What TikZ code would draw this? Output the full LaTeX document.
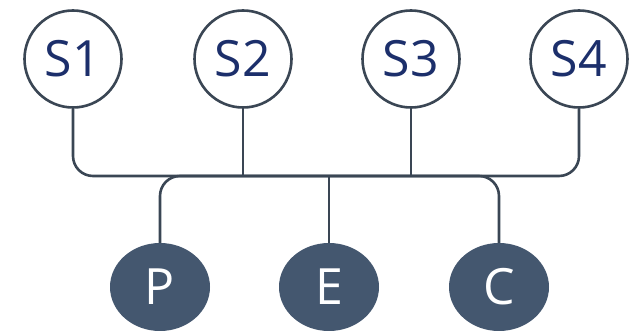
\documentclass[tikz,border=0pt]{standalone}
\usepackage{fontspec}
\setmainfont{Open Sans}
\usetikzlibrary{shapes.geometric}
\definecolor{linec}{HTML}{3A4654}
\definecolor{textblue}{HTML}{1C2F6B}
\definecolor{darkfill}{HTML}{44576F}
\tikzset{
  snode/.style={circle, draw=linec, line width=2.6pt, fill=white, minimum size=97pt, inner sep=0pt, text=textblue, font=\fontsize{50}{50}\selectfont},
  pnode/.style={ellipse, fill=darkfill, minimum width=100pt, minimum height=88pt, inner sep=0pt, text=white, font=\fontsize{50}{50}\selectfont},
  conn/.style={draw=linec, line width=2.6pt, rounded corners=20pt}
}
\begin{document}
\begin{tikzpicture}[x=1pt,y=-1pt]
\useasboundingbox (0,0) rectangle (634,331);
\node[snode] (S1) at (73,59) {S1};
\node[snode] (S2) at (243,59) {S2};
\node[snode] (S3) at (411,59) {S3};
\node[snode] (S4) at (579,59) {S4};
\node[pnode] (P) at (160,287) {P};
\node[pnode] (E) at (329,287) {E};
\node[pnode] (C) at (499,287) {C};
\coordinate (bus) at (0,176);
\draw[conn] (S1.south) |- (bus -| S4.south) -- (S4.south);
\draw[conn] (S2.south) -- (bus -| S2.south);
\draw[conn] (S3.south) -- (bus -| S3.south);
\draw[conn] (P.north) |- (bus -| C.north) -- (C.north);
\draw[conn] (E.north) -- (bus -| E.north);
\end{tikzpicture}
\end{document}
